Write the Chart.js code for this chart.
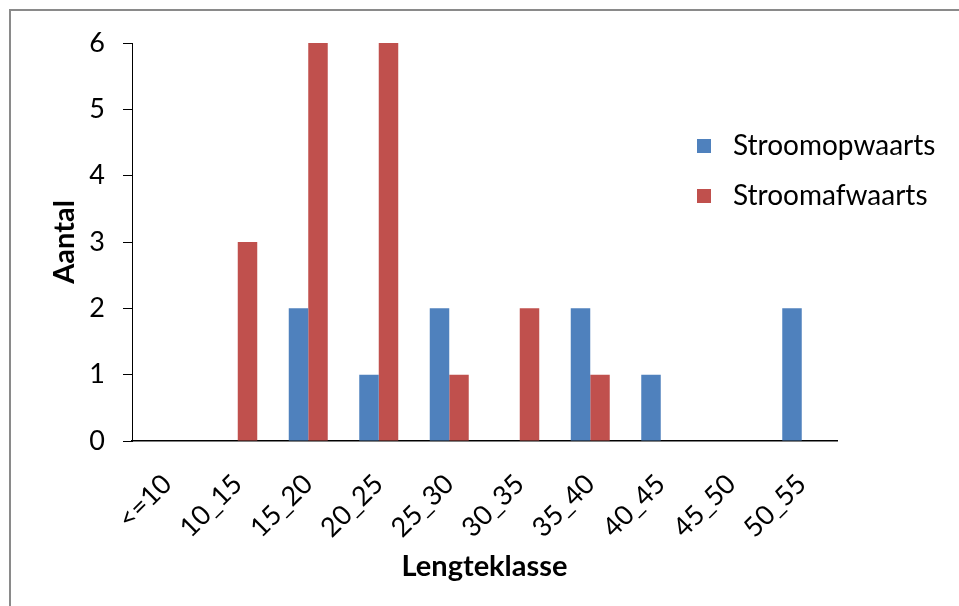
<!DOCTYPE html>
<html>
<head>
<meta charset="utf-8">
<script src="https://cdn.jsdelivr.net/npm/chart.js@4.4.1/dist/chart.umd.min.js"></script>
<style>
  html, body { margin: 0; padding: 0; background: #fff; overflow: hidden; }
  #wrap { position: relative; width: 959px; height: 606px; }
  #frame { position: absolute; left: 9px; top: 9px; width: 1000px; height: 700px;
           border-top: 2px solid #8a8a8a; border-left: 2px solid #8a8a8a; }
  canvas { position: absolute; left: 0; top: 0; }
</style>
</head>
<body>
<div id="wrap">
  <div id="frame"></div>
  <canvas id="c" width="959" height="606"></canvas>
</div>
<script>
const categories = ['<=10', '10_15', '15_20', '20_25', '25_30', '30_35', '35_40', '40_45', '45_50', '50_55'];
const stroomopwaarts = [0, 0, 2, 1, 2, 0, 2, 1, 0, 2];
const stroomafwaarts = [0, 3, 6, 6, 1, 2, 1, 0, 0, 0];
const yTicks = [0, 1, 2, 3, 4, 5, 6];

const FONT = 'Lato, "Open Sans", sans-serif';

// Legend drawn to the right of the plot, square marker + label
const sideLegend = {
  id: 'sideLegend',
  afterDraw(chart) {
    const ctx = chart.ctx;
    const x0 = chart.chartArea.right - 140;
    const y0 = chart.chartArea.top + 103;
    const gap = 50;
    ctx.save();
    ctx.font = '28px ' + FONT;
    ctx.textBaseline = 'middle';
    ctx.textAlign = 'left';
    chart.data.datasets.forEach((ds, i) => {
      const cy = y0 + i * gap;
      ctx.fillStyle = ds.backgroundColor;
      ctx.fillRect(x0, cy - 7, 14, 14);
      ctx.fillStyle = '#000';
      ctx.fillText(ds.label, x0 + 36, cy);
    });
    ctx.restore();
  }
};

new Chart(document.getElementById('c'), {
  type: 'bar',
  data: {
    labels: categories,
    datasets: [
      { label: 'Stroomopwaarts', data: stroomopwaarts, backgroundColor: '#4F81BD' },
      { label: 'Stroomafwaarts', data: stroomafwaarts, backgroundColor: '#C0504D' }
    ]
  },
  options: {
    responsive: false,
    animation: false,
    devicePixelRatio: 1,
    layout: { padding: { left: 10, top: 43, right: 122, bottom: 20 } },
    datasets: { bar: { categoryPercentage: 0.553, barPercentage: 1.0, borderWidth: 0 } },
    plugins: { legend: { display: false }, tooltip: { enabled: false } },
    scales: {
      x: {
        grid: { display: false, drawTicks: false },
        border: { color: '#000', width: 1.5 },
        ticks: { color: '#000', font: { family: FONT, size: 27 }, minRotation: 45, maxRotation: 45, padding: 27 },
        title: { display: true, text: 'Lengteklasse', color: '#000', font: { family: FONT, size: 29, weight: 'bold' }, padding: { top: 2, bottom: 2 } },
        afterFit(scale) { scale.height = 145; }
      },
      y: {
        min: 0, max: 6,
        afterBuildTicks(scale) { scale.ticks = yTicks.map(v => ({ value: v })); },
        grid: { drawOnChartArea: false, drawTicks: true, tickLength: 9, color: '#000', tickWidth: 1 },
        border: { color: '#000', width: 1 },
        ticks: { color: '#000', font: { family: FONT, size: 27 }, padding: 18 },
        title: { display: true, text: 'Aantal', color: '#000', font: { family: FONT, size: 29, weight: 'bold' }, padding: { top: 37, bottom: 0 } },
        afterFit(scale) { scale.width = 122; }
      }
    }
  },
  plugins: [sideLegend]
});
</script>
</body>
</html>
